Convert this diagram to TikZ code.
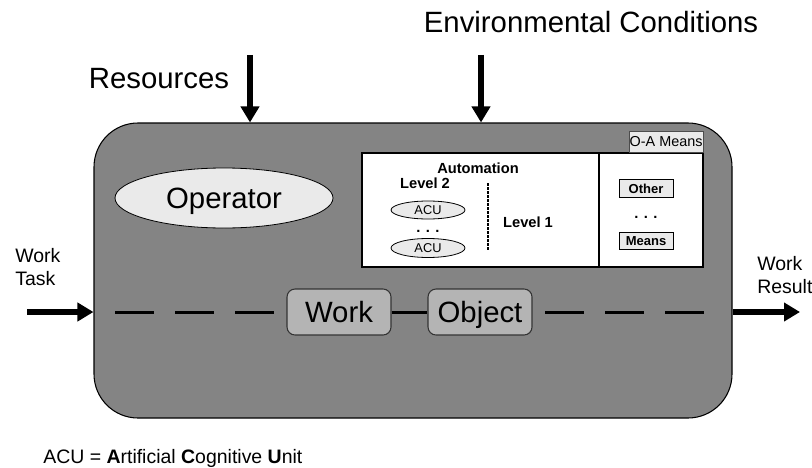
\documentclass[tikz,border=0pt]{standalone}
\usepackage{fontspec}
\setmainfont{Liberation Sans}
\usetikzlibrary{arrows.meta,shapes.geometric}
\definecolor{sysgray}{RGB}{132,132,132}
\definecolor{boxgray}{RGB}{180,180,180}
\definecolor{lightfill}{RGB}{234,234,234}
\begin{document}
\begin{tikzpicture}[x=0.75pt,y=-0.75pt,
  bigtext/.style={font=\fontsize{22}{26}\selectfont, inner sep=0pt, text depth=0pt},
  smalltext/.style={font=\fontsize{14.6}{17.5}\selectfont, inner sep=0pt},
  bigarrow/.style={line width=4.5pt, -{Triangle[length=12pt,width=13.5pt]}},
  sysbox/.style={draw=black, line width=0.8pt, fill=sysgray, rounded corners=33pt,
    minimum width=478.5pt, minimum height=221.25pt, inner sep=0pt},
  wobox/.style={draw=black!80, line width=0.8pt, fill=boxgray, rounded corners=6pt,
    minimum width=78pt, minimum height=34.5pt, inner sep=0pt,
    font=\fontsize{22}{26}\selectfont, text depth=0pt},
  opell/.style={ellipse, draw=black, line width=0.6pt, fill=lightfill,
    minimum width=163.5pt, minimum height=45pt, inner sep=0pt,
    font=\fontsize{22}{26}\selectfont, text depth=0pt},
  autobox/.style={draw=black, line width=0.8pt, fill=white,
    minimum width=255.75pt, minimum height=85.5pt, inner sep=0pt},
  oabox/.style={draw=black!70, line width=0.6pt, fill=lightfill,
    minimum width=55.5pt, minimum height=15.75pt, inner sep=0pt,
    font=\fontsize{10.8}{13}\selectfont},
  lvl/.style={font=\fontsize{11}{13}\selectfont\bfseries, inner sep=0pt},
  acuell/.style={ellipse, draw=black, line width=0.6pt, fill=lightfill,
    minimum width=55.5pt, minimum height=13.5pt, inner sep=0pt,
    font=\fontsize{9.6}{11}\selectfont},
  smbox/.style={draw=black, line width=0.7pt, fill=lightfill,
    minimum width=40.5pt, minimum height=13pt, inner sep=0pt,
    font=\fontsize{9.75}{11}\selectfont\bfseries},
  dotsl/.style={font=\fontsize{11}{13}\selectfont\bfseries, inner sep=0pt},
  dashline/.style={line width=2.25pt, dash pattern=on 29.25pt off 15.75pt},
  linkline/.style={line width=2.25pt},
  vdash/.style={line width=1.5pt, dash pattern=on 2.25pt off 0.75pt}
]
\path[use as bounding box] (0,0) rectangle (812,467);

% system box
\node[sysbox] (sys) at (413,270.5) {};

% top labels and arrows
\node[bigtext, anchor=base] (res) at (159,88) {Resources};
\node[bigtext, anchor=base] (env) at (591,33) {Environmental Conditions};
\coordinate (resin) at (250,55);
\coordinate (envin) at (481,55);
\draw[bigarrow] (resin) -- (resin |- sys.north);
\draw[bigarrow] (envin) -- (envin |- sys.north);

% operator
\node[opell] (op) at (224,198) {Operator};

% automation box
\node[autobox] (auto) at (532.5,210) {};
\node[oabox, anchor=south east] (oa) at (auto.north east) {O-A Means};
\coordinate (divx) at (599,0);
\draw[line width=0.8pt] (auto.north -| divx) -- (auto.south -| divx);
\node[lvl] (autom) at (478,168) {Automation};
\node[lvl] (lv2) at (425,183) {Level 2};
\node[lvl] (lv1) at (528,222) {Level 1};
\node[acuell] (acu1) at (428,210) {ACU};
\node[dotsl] (acudots) at (428,231) {. . .};
\node[acuell, minimum height=14.25pt] (acu2) at (428,248) {ACU};
\coordinate (vd1) at (488,183);
\coordinate (vd2) at (488,250);
\draw[vdash] (vd1) -- (vd2);
\node[smbox] (other) at (646,188.5) {Other};
\node[dotsl] (mdots) at (646,217) {. . .};
\node[smbox] (means) at (646,241) {Means};

% work object row
\node[wobox] (work) at (339,312) {Work};
\node[wobox] (obj) at (480,312) {Object};
\draw[linkline] (work) -- (obj);
\coordinate (dA) at (115,312);
\coordinate (dB) at (275,312);
\coordinate (dC) at (545,312);
\coordinate (dD) at (705,312);
\draw[dashline] (dA) -- (dB);
\draw[dashline] (dC) -- (dD);

% work task / result
\coordinate (tin) at (27,312);
\coordinate (rout) at (800,312);
\draw[bigarrow] (tin) -- (tin -| sys.west);
\draw[bigarrow] (rout -| sys.east) -- (rout);
\node[smalltext, anchor=base west] (wt1) at (15,262) {Work};
\node[smalltext, anchor=base west] (wt2) at (15,285) {Task};
\node[smalltext, anchor=base west] (wr1) at (757,270) {Work};
\node[smalltext, anchor=base west] (wr2) at (757,293) {Result};

% legend
\node[smalltext, anchor=base west] (legend) at (43,463)
  {ACU = \textbf{A}rtificial \textbf{C}ognitive \textbf{U}nit};
\end{tikzpicture}
\end{document}
